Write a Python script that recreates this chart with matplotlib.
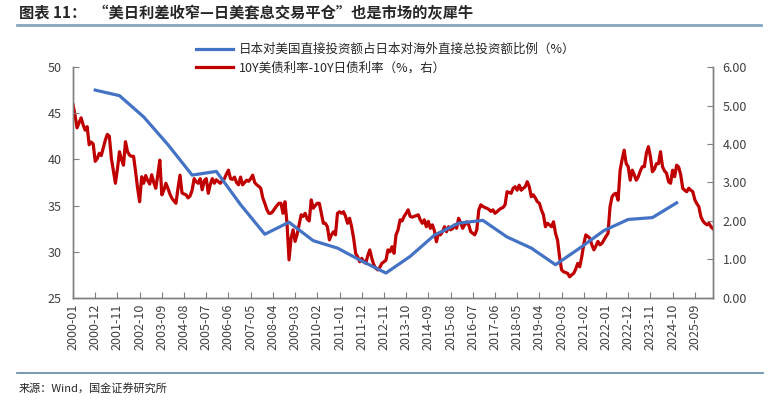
import numpy as np
import pandas as pd
import matplotlib
matplotlib.use('Agg')
import matplotlib.pyplot as plt
from matplotlib.lines import Line2D

plt.rcParams['font.family'] = ['Noto Sans CJK SC', 'DejaVu Sans']
plt.rcParams['axes.unicode_minus'] = False

# monthly categories 2000-01 .. 2026-06
months = pd.date_range('2000-01-01', periods=318, freq='MS').strftime('%Y-%m').tolist()

# share of Japan's direct investment in the US (%), year-end points
blue_months = [f'{y}-12' for y in range(2000, 2025)]
blue_vals = [47.5, 46.9, 44.6, 41.6, 38.3, 38.7, 35.1, 31.9, 33.2, 31.2,
             30.4, 29.0, 27.7, 29.5, 31.8, 33.1, 33.4, 31.6, 30.4, 28.6,
             30.4, 32.3, 33.5, 33.7, 35.3]

# 10Y UST - 10Y JGB spread (%), monthly
red_vals = [
    5.02, 4.75, 4.42, 4.55, 4.68, 4.50, 4.36, 4.45, 3.98, 4.05, 4.00, 3.55,  # 2000
    3.62, 3.76, 3.70, 3.90, 4.10, 4.25, 4.20, 3.63, 3.30, 2.98, 3.35, 3.80,  # 2001
    3.60, 3.45, 4.06, 3.80, 3.71, 3.68, 3.68, 3.28, 2.85, 2.50, 3.15, 2.98,  # 2002
    3.18, 3.05, 2.96, 3.20, 3.00, 2.85, 3.20, 3.58, 2.68, 2.80, 2.98, 2.85,  # 2003
    2.70, 2.59, 2.52, 2.46, 2.85, 3.19, 2.73, 2.70, 2.68, 2.60, 2.65, 2.80,  # 2004
    3.10, 3.02, 2.98, 3.10, 2.81, 3.05, 3.10, 2.72, 2.95, 3.10, 2.98, 3.07,  # 2005
    3.02, 2.98, 3.05, 3.10, 3.22, 3.32, 3.10, 3.08, 3.14, 3.00, 2.94, 3.14,  # 2006
    2.94, 3.00, 3.06, 3.03, 3.10, 3.19, 3.00, 2.94, 2.90, 2.85, 2.60, 2.46,  # 2007
    2.30, 2.20, 2.20, 2.25, 2.33, 2.40, 2.46, 2.46, 2.20, 2.50, 1.94, 0.99,  # 2008
    1.55, 1.77, 1.47, 1.65, 1.90, 2.16, 2.12, 2.20, 2.05, 2.00, 2.55, 2.33,  # 2009
    2.40, 2.46, 2.46, 2.20, 1.94, 1.94, 1.85, 1.51, 1.64, 1.72, 1.64, 2.20,  # 2010
    2.24, 2.20, 2.24, 2.12, 1.94, 2.07, 1.85, 1.55, 1.16, 1.07, 0.94, 1.03,  # 2011
    0.95, 0.90, 1.10, 1.25, 1.03, 0.86, 0.77, 0.73, 0.80, 0.90, 0.94, 0.98,  # 2012
    1.25, 1.20, 1.33, 1.16, 1.64, 1.77, 2.03, 2.00, 2.12, 2.20, 2.29, 2.12,  # 2013
    2.10, 2.12, 2.14, 2.16, 2.03, 1.94, 2.03, 1.85, 1.99, 1.81, 1.90, 1.75,  # 2014
    1.46, 1.68, 1.64, 1.72, 1.85, 1.72, 1.85, 1.77, 1.80, 1.90, 1.81, 2.07,  # 2015
    1.95, 1.81, 1.90, 1.98, 1.90, 1.72, 1.68, 1.64, 1.77, 2.29, 2.42, 2.38,  # 2016
    2.35, 2.33, 2.30, 2.25, 2.29, 2.20, 2.24, 2.29, 2.33, 2.35, 2.42, 2.76,  # 2017
    2.74, 2.72, 2.85, 2.89, 2.80, 2.93, 2.80, 2.85, 2.89, 3.02, 2.89, 2.63,  # 2018
    2.68, 2.60, 2.50, 2.46, 2.29, 2.16, 1.85, 1.94, 1.90, 1.85, 1.98, 1.68,  # 2019
    1.50, 1.07, 0.73, 0.68, 0.66, 0.64, 0.55, 0.60, 0.64, 0.75, 0.90, 0.81,  # 2020
    1.07, 1.40, 1.64, 1.60, 1.55, 1.38, 1.25, 1.35, 1.47, 1.38, 1.42, 1.51,  # 2021
    1.60, 1.68, 2.37, 2.63, 2.70, 2.72, 2.54, 3.32, 3.60, 3.84, 3.49, 3.41,  # 2022
    3.06, 3.32, 3.20, 3.06, 3.15, 3.30, 3.41, 3.41, 3.76, 3.93, 3.67, 3.28,  # 2023
    3.35, 3.49, 3.49, 3.80, 3.41, 3.30, 3.24, 3.02, 2.98, 3.32, 3.15, 3.45,  # 2024
    3.40, 3.20, 2.85, 2.80, 2.76, 2.85, 2.80, 2.76, 2.55, 2.45, 2.37, 2.11,  # 2025
    2.00, 1.94, 1.90, 1.94, 1.85, 1.80,                                      # 2026
]

blue_label = '日本对美国直接投资额占日本对海外直接总投资额比例（%）'
red_label = '10Y美债利率-10Y日债利率（%，右）'
title = '图表 11：  “美日利差收窄—日美套息交易平仓”也是市场的灰犀牛'
source = '来源：Wind，国金证券研究所'

BLUE = '#4472C4'
RED = '#C00000'
AX_COL = '#7f7f7f'
TXT = '#404040'

fig = plt.figure(figsize=(7.8, 4.01), dpi=100)
ax = fig.add_axes([0.0936, 0.2569, 0.8205, 0.576])
ax2 = ax.twinx()

x_red = np.arange(len(red_vals))
x_blue = [months.index(m) for m in blue_months]

ax.plot(x_blue, blue_vals, color=BLUE, lw=2.3, zorder=3)
ax2.plot(x_red, red_vals, color=RED, lw=2.3, zorder=3)

ax.set_xlim(0, len(months) - 1)
ax.set_ylim(25, 50)
ax2.set_ylim(0, 6)
ax.set_yticks(range(25, 51, 5))
ax2.set_yticks(range(0, 7))
ax2.set_yticklabels([f'{v:.2f}' for v in range(0, 7)])

tick_pos = list(range(0, len(months), 11))
ax.set_xticks(tick_pos)
ax.set_xticklabels([months[i] for i in tick_pos], rotation=90)

for a in (ax, ax2):
    a.spines['top'].set_visible(False)
    for s in ('left', 'right', 'bottom'):
        a.spines[s].set_color(AX_COL)
        a.spines[s].set_linewidth(1.0)
    a.tick_params(direction='in', length=4, width=0.8, color=AX_COL,
                  labelsize=9, labelcolor=TXT)
ax.tick_params(axis='x', labelsize=9, pad=4)
ax.tick_params(axis='y', pad=8)
ax2.tick_params(axis='y', pad=7)
ax.set_zorder(ax2.get_zorder() + 1)
ax.patch.set_visible(False)

handles = [Line2D([], [], color=BLUE, lw=2.3), Line2D([], [], color=RED, lw=2.3)]
fig.legend(handles, [blue_label, red_label], loc='upper left',
           bbox_to_anchor=(0.251, 0.893), frameon=False, fontsize=9,
           handlelength=3.0, handletextpad=0.45, labelspacing=0.45,
           borderaxespad=0, borderpad=0, labelcolor='#262626')

fig.text(0.024, 0.967, title, fontsize=11, fontweight='bold',
         color='#262626', va='center', ha='left')
fig.add_artist(Line2D([0.022, 0.975], [0.937, 0.937], color='#86a6bf', lw=2))
fig.add_artist(Line2D([0.022, 0.978], [0.07, 0.07], color='#5d87a6', lw=1.2))
fig.text(0.024, 0.032, source, fontsize=8, color='#262626',
         va='center', ha='left')

fig.savefig('out.png', dpi=100)
